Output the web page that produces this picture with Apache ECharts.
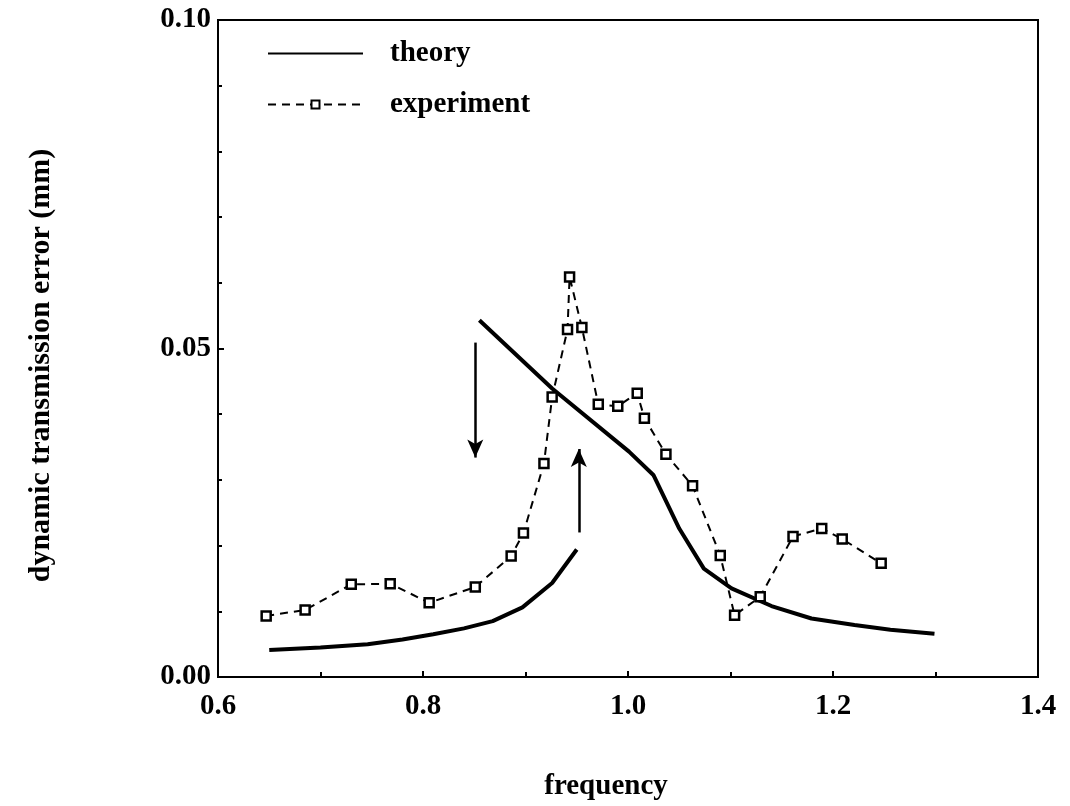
<!DOCTYPE html>
<html>
<head>
<meta charset="utf-8">
<script src="https://cdn.jsdelivr.net/npm/echarts@6/dist/echarts.min.js"></script>
<style>
  html, body { margin: 0; padding: 0; background: #fff; }
  #main { width: 1070px; height: 806px; }
</style>
</head>
<body>
<div id="main"></div>
<script>
// experiment (dashed, square markers)
var expX = [0.647, 0.685, 0.730, 0.768, 0.806, 0.851, 0.886, 0.898, 0.918, 0.926, 0.941, 0.943, 0.955,
            0.971, 0.990, 1.009, 1.016, 1.037, 1.063, 1.090, 1.104, 1.129, 1.161, 1.189, 1.209, 1.247];
var expY = [0.0093, 0.0102, 0.0141, 0.0142, 0.0113, 0.0137, 0.0184, 0.0219, 0.0325, 0.0426, 0.0529, 0.0609, 0.0532,
            0.0415, 0.0412, 0.0432, 0.0394, 0.0339, 0.0291, 0.0185, 0.0094, 0.0122, 0.0214, 0.0226, 0.0210, 0.0173];

// theory, lower branch (sweep up)
var thLowX = [0.650, 0.700, 0.746, 0.780, 0.810, 0.840, 0.868, 0.897, 0.926, 0.950];
var thLowY = [0.0041, 0.0045, 0.0050, 0.0057, 0.0065, 0.0074, 0.0085, 0.0106, 0.0143, 0.0194];

// theory, upper branch (sweep down)
var thHighX = [0.855, 0.926, 1.001, 1.025, 1.050, 1.074, 1.101, 1.140, 1.179, 1.221, 1.256, 1.299];
var thHighY = [0.0543, 0.0439, 0.0343, 0.0307, 0.0226, 0.0165, 0.0135, 0.0108, 0.0089, 0.0079, 0.0072, 0.0066];

// jump arrows [x, yFrom, yTo]
var arrowDown = [0.851, 0.0509, 0.0334];
var arrowUp = [0.952, 0.0220, 0.0347];

function pairs(xs, ys) {
  var out = [];
  for (var i = 0; i < xs.length; i++) out.push([xs[i], ys[i]]);
  return out;
}

var chart = echarts.init(document.getElementById('main'));
var serif = 'Liberation Serif';

var option = {
  backgroundColor: '#fff',
  animation: false,
  grid: {
    left: 218, right: 32, top: 20, bottom: 128,
    show: true, borderColor: '#000', borderWidth: 2
  },
  legend: {
    orient: 'vertical',
    left: 262, top: 34,
    itemWidth: 95, itemHeight: 10, itemGap: 22,
    textStyle: { fontFamily: serif, fontSize: 29, fontWeight: 'bold', color: '#000', padding: [10, 0, 0, 22] },
    data: [
      { name: 'theory', itemStyle: { color: 'rgba(0,0,0,0)', borderWidth: 0 } },
      'experiment'
    ]
  },
  xAxis: {
    type: 'value',
    min: 0.6, max: 1.4, interval: 0.2,
    name: 'frequency',
    nameLocation: 'middle',
    nameGap: 95,
    nameTextStyle: { fontFamily: serif, fontSize: 29, fontWeight: 'bold', color: '#000', padding: [0, 44, 0, 0] },
    axisLine: { lineStyle: { color: '#000', width: 2 } },
    axisTick: { inside: true, length: 6, lineStyle: { color: '#000', width: 2 } },
    minorTick: { show: true, splitNumber: 2, length: 5, lineStyle: { color: '#000', width: 2 } },
    axisLabel: {
      fontFamily: serif, fontSize: 29, fontWeight: 'bold', color: '#000', margin: 15,
      formatter: function (v) { return v.toFixed(1); }
    },
    splitLine: { show: false }
  },
  yAxis: {
    type: 'value',
    min: 0, max: 0.1, interval: 0.05,
    name: 'dynamic transmission error (mm)',
    nameLocation: 'middle',
    nameGap: 162,
    nameRotate: 90,
    nameTextStyle: { fontFamily: serif, fontSize: 30, fontWeight: 'bold', color: '#000', padding: [0, 34, 0, 0] },
    axisLine: { lineStyle: { color: '#000', width: 2 } },
    axisTick: { inside: true, length: 6, lineStyle: { color: '#000', width: 2 } },
    minorTick: { show: true, splitNumber: 5, length: 4, lineStyle: { color: '#000', width: 2 } },
    axisLabel: {
      fontFamily: serif, fontSize: 29, fontWeight: 'bold', color: '#000', margin: 7,
      formatter: function (v) { return v.toFixed(2); }
    },
    splitLine: { show: false }
  },
  series: [
    {
      name: 'theory',
      type: 'line',
      data: pairs(thLowX, thLowY),
      symbol: 'none',
      lineStyle: { color: '#000', width: 4 },
      itemStyle: { color: '#000' },
      z: 3
    },
    {
      name: 'theory',
      type: 'line',
      data: pairs(thHighX, thHighY),
      symbol: 'none',
      lineStyle: { color: '#000', width: 4 },
      itemStyle: { color: '#000' },
      z: 3,
      markLine: {
        silent: true,
        symbol: ['none', 'arrow'],
        symbolSize: [12, 18],
        label: { show: false },
        lineStyle: { color: '#000', width: 2.5, type: 'solid' },
        data: [
          [{ coord: [arrowDown[0], arrowDown[1]] }, { coord: [arrowDown[0], arrowDown[2]] }],
          [{ coord: [arrowUp[0], arrowUp[1]] }, { coord: [arrowUp[0], arrowUp[2]] }]
        ]
      }
    },
    {
      name: 'experiment',
      type: 'line',
      data: pairs(expX, expY),
      symbol: 'rect',
      symbolSize: 9,
      showAllSymbol: true,
      lineStyle: { color: '#000', width: 2, type: [8, 6] },
      itemStyle: { color: '#fff', borderColor: '#000', borderWidth: 2.5 },
      z: 4
    }
  ]
};

chart.setOption(option);
</script>
</body>
</html>
